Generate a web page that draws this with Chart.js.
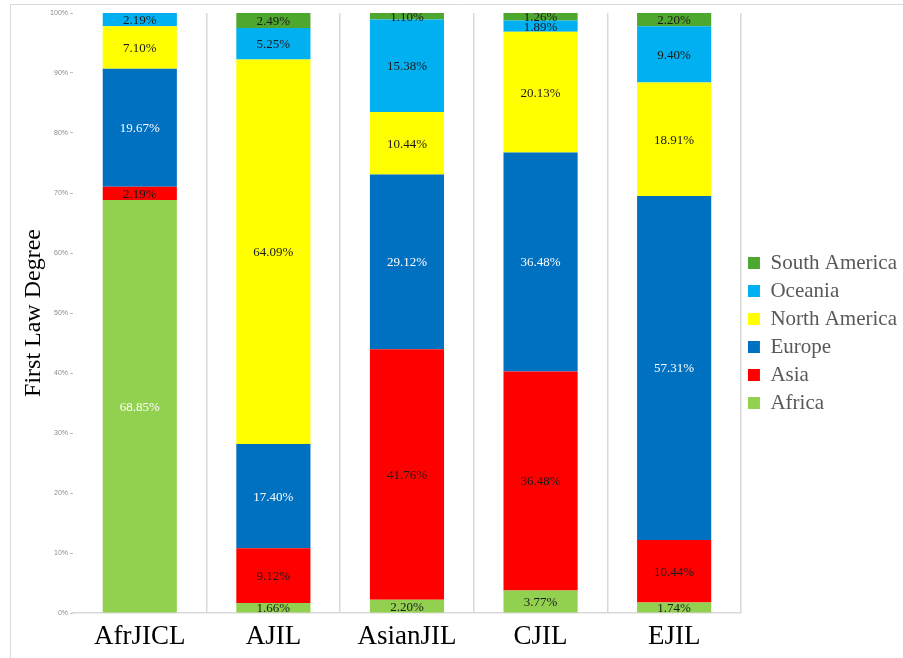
<!DOCTYPE html>
<html>
<head>
<meta charset="utf-8">
<script src="https://cdn.jsdelivr.net/npm/chart.js@4.4.0/dist/chart.umd.min.js"></script>
<style>
  html, body { margin: 0; padding: 0; background: #fff; }
  #wrap { width: 903px; height: 658px; position: relative; }
</style>
</head>
<body>
<div id="wrap"><canvas id="c" width="903" height="658"></canvas></div>
<script>
const categories = ["AfrJICL", "AJIL", "AsianJIL", "CJIL", "EJIL"];
const africa       = [68.85, 1.66, 2.20, 3.77, 1.74];
const asia         = [2.19, 9.12, 41.76, 36.48, 10.44];
const europe       = [19.67, 17.40, 29.12, 36.48, 57.31];
const northAmerica = [7.10, 64.09, 10.44, 20.13, 18.91];
const oceania      = [2.19, 5.25, 15.38, 1.89, 9.40];
const southAmerica = [0, 2.49, 1.10, 1.26, 2.20];
const yTicks = [0, 10, 20, 30, 40, 50, 60, 70, 80, 90, 100];

const serif = "'Liberation Serif', 'Times New Roman', serif";

const frame = {
  id: 'frame',
  beforeDraw(chart) {
    const ctx = chart.ctx;
    ctx.save();
    ctx.strokeStyle = '#d9d9d9';
    ctx.lineWidth = 1;
    ctx.beginPath();
    ctx.moveTo(10.5, 658);
    ctx.lineTo(10.5, 4.5);
    ctx.lineTo(903, 4.5);
    ctx.stroke();
    ctx.restore();
  }
};

const valueLabels = {
  id: 'valueLabels',
  afterDatasetsDraw(chart) {
    const ctx = chart.ctx;
    ctx.save();
    ctx.font = "13px " + serif;
    ctx.textAlign = 'center';
    ctx.textBaseline = 'middle';
    chart.data.datasets.forEach((ds, di) => {
      const meta = chart.getDatasetMeta(di);
      meta.data.forEach((el, i) => {
        const v = ds.data[i];
        if (!v) return;
        const y = (el.y + el.base) / 2;
        let color = '#1a1a1a';
        if (ds.label === 'Europe' || (ds.label === 'Africa' && v > 50)) color = '#ffffff';
        ctx.fillStyle = color;
        ctx.fillText(v.toFixed(2) + '%', el.x, y + 1);
      });
    });
    ctx.restore();
  }
};

const mk = (label, data, color) => ({
  label, data, backgroundColor: color, borderWidth: 0,
  categoryPercentage: 1.0, barPercentage: 0.555
});

new Chart(document.getElementById('c'), {
  type: 'bar',
  data: {
    labels: categories,
    datasets: [
      mk('Africa', africa, '#92D050'),
      mk('Asia', asia, '#FF0000'),
      mk('Europe', europe, '#0070C0'),
      mk('North America', northAmerica, '#FFFF00'),
      mk('Oceania', oceania, '#00B0F0'),
      mk('South America', southAmerica, '#4EA72E')
    ]
  },
  options: {
    responsive: false,
    animation: false,
    layout: { padding: { top: 13, bottom: 5, left: 0, right: -4 } },
    plugins: {
      tooltip: { enabled: false },
      legend: {
        position: 'right',
        reverse: true,
        labels: {
          boxWidth: 12, boxHeight: 12,
          padding: 7,
          color: '#595959',
          font: { family: serif, size: 21 }
        }
      }
    },
    scales: {
      x: {
        stacked: true,
        offset: true,
        grid: {
          offset: true,
          drawTicks: false,
          color: (c) => c.index === 0 ? 'rgba(0,0,0,0)' : '#d9d9d9',
          lineWidth: 1.5
        },
        border: { display: true, color: '#d9d9d9', width: 1.5 },
        ticks: { color: '#000', padding: 8, font: { family: serif, size: 27 } },
        afterFit: (s) => { s.height = 40; }
      },
      y: {
        stacked: true,
        min: 0, max: 100,
        afterBuildTicks: (s) => { s.ticks = yTicks.map(v => ({ value: v })); },
        grid: { drawOnChartArea: false, drawTicks: true, tickLength: 3, color: '#bfbfbf' },
        border: { display: false },
        ticks: {
          color: '#8c8c8c', padding: 2,
          font: { family: "'Liberation Sans', Arial, sans-serif", size: 7 },
          callback: (v) => v + '%'
        },
        title: {
          display: true, text: 'First Law Degree', color: '#000',
          font: { family: serif, size: 24 },
          padding: { top: 19, bottom: 0 }
        },
        afterFit: (s) => { s.width = 73; }
      }
    }
  },
  plugins: [frame, valueLabels]
});
</script>
</body>
</html>
